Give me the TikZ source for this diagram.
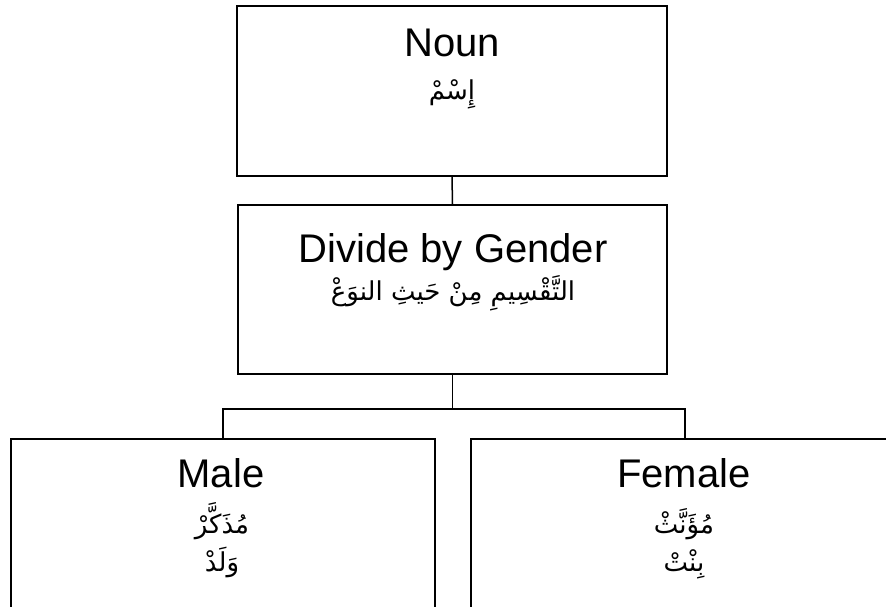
\documentclass[tikz,border=0pt]{standalone}
\usepackage{fontspec}
\setmainfont{Liberation Sans}
\newfontfamily\arabicfont[Script=Arabic]{DejaVu Sans}
\TeXXeTstate=1
\begin{document}
\begin{tikzpicture}[x=1pt,y=-1pt,
  box/.style={draw, line width=1.5pt, inner sep=0pt},
  en/.style={font=\fontsize{40}{44}\selectfont, anchor=base, inner sep=0pt},
  ar/.style={font=\arabicfont\fontsize{26}{30}\selectfont, anchor=base, inner sep=0pt},
  conn/.style={line width=1.5pt}]
\useasboundingbox (0,0) rectangle (886,606);
% boxes
\node[box, minimum width=430pt, minimum height=170pt] (noun) at (452,91) {};
\node[box, minimum width=429pt, minimum height=169pt] (divide) at (452.5,289.5) {};
\node[box, minimum width=424pt, minimum height=201pt] (male) at (223,539.5) {};
\node[box, minimum width=428pt, minimum height=201pt] (female) at (685,539.5) {};
% connectors
\draw[conn] (noun.south) -- (divide.north);
\draw[conn] (divide.south) -- ++(0,34) coordinate (j);
\draw[conn] (male.north) |- (j) -| (female.north);
% texts
\node[en] (nounT) at (452,56) {Noun};
\node[ar] (nounA) at (452,99) {\beginR إِسْمْ\endR};
\node[en] (divT) at (453,262) {Divide by Gender};
\node[ar] (divA) at (453,300) {\beginR التَّقْسِيمِ مِنْ حَيثِ النوَعْ\endR};
\node[en] (maleT) at (221,487) {Male};
\node[ar] (maleA) at (222,533) {\beginR مُذَكَّرْ\endR};
\node[ar] (maleB) at (222,571) {\beginR وَلَدْ\endR};
\node[en] (femT) at (684,487) {Female};
\node[ar] (femA) at (684,533) {\beginR مُؤَنَّثْ\endR};
\node[ar] (femB) at (684,571) {\beginR بِنْتْ\endR};
\end{tikzpicture}
\end{document}
